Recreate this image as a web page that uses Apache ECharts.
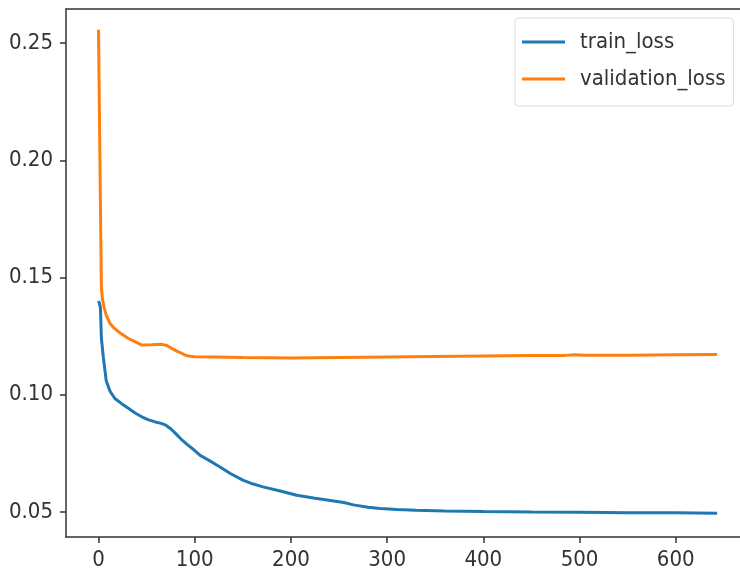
<!DOCTYPE html>
<html>
<head>
<meta charset="utf-8">
<script src="https://cdn.jsdelivr.net/npm/echarts@6/dist/echarts.min.js"></script>
<style>
  html, body { margin: 0; padding: 0; background: #fff; }
  #chart { width: 740px; height: 576px; }
</style>
</head>
<body>
<div id="chart"></div>
<script>
// epochs and loss values
const trainEpochs = [0, 1, 2, 3, 5, 8, 12, 17, 24, 31, 38, 45, 52, 59, 65, 70, 75, 80, 86, 93, 100, 106, 114, 125, 137, 150, 160, 171, 190, 206, 225, 241, 255, 265, 280, 293, 310, 330, 360, 400, 450, 500, 550, 600, 643]
const trainLoss = [0.140, 0.139, 0.137, 0.124, 0.116, 0.106, 0.1015, 0.0984, 0.0962, 0.0942, 0.0922, 0.0906, 0.0893, 0.0884, 0.0878, 0.0870, 0.0855, 0.0835, 0.0810, 0.0785, 0.0762, 0.0740, 0.0722, 0.0695, 0.0664, 0.0636, 0.0620, 0.0607, 0.0588, 0.0571, 0.0558, 0.0549, 0.0540, 0.0530, 0.0520, 0.0515, 0.0510, 0.0507, 0.0504, 0.0502, 0.0500, 0.0499, 0.0497, 0.0496, 0.0494]

const valEpochs = [0, 1, 2, 3, 4, 6, 8, 12, 16, 21, 31, 40, 45, 55, 66, 71, 76, 82, 86, 90, 95, 100, 121, 150, 200, 250, 300, 350, 400, 450, 485, 495, 505, 550, 600, 643]
const valLoss = [0.2557, 0.218, 0.181, 0.146, 0.141, 0.137, 0.134, 0.1304, 0.1285, 0.1268, 0.1240, 0.1222, 0.1212, 0.1213, 0.1215, 0.1210, 0.1198, 0.1185, 0.1178, 0.1169, 0.1164, 0.1162, 0.1161, 0.1159, 0.1157, 0.1159, 0.1161, 0.1163, 0.1165, 0.1167, 0.1168, 0.1171, 0.1169, 0.1169, 0.1171, 0.1172]

const xTicks = [0, 100, 200, 300, 400, 500, 600]
const yTicks = [0.05, 0.10, 0.15, 0.20, 0.25]

const font = 'DejaVu Sans Condensed, DejaVu Sans, sans-serif'
const axisColor = '#333'

const xMin = -33.8
const xMax = 666.8

function pairs(xs, ys) {
  return xs.map((x, i) => [x, ys[i]])
}

const chart = echarts.init(document.getElementById('chart'))
chart.setOption({
  animation: false,
  backgroundColor: '#fff',
  grid: { left: 66, right: 0, top: 9, bottom: 39 },
  legend: {
    orient: 'vertical',
    left: 515,
    top: 18,
    icon: 'rect',
    itemWidth: 43,
    itemHeight: 3,
    itemGap: 15,
    padding: [13, 8, 16, 7],
    backgroundColor: 'rgba(255,255,255,0.9)',
    borderColor: '#ddd',
    borderWidth: 1,
    borderRadius: 4,
    textStyle: { fontFamily: font, fontSize: 22, color: axisColor, padding: [0, 0, 0, 10] },
    data: ['train_loss', 'validation_loss']
  },
  xAxis: [
    {
      type: 'value',
      min: xMin,
      max: xMax,
      axisLine: { show: true, onZero: false, lineStyle: { color: axisColor, width: 1.5 } },
      axisTick: { show: true, length: 6, customValues: xTicks, lineStyle: { color: axisColor, width: 1.5 } },
      axisLabel: { customValues: xTicks, fontFamily: font, fontSize: 22, color: axisColor, margin: 12 },
      splitLine: { show: false }
    },
    {
      // top spine only
      type: 'value',
      position: 'top',
      min: xMin,
      max: xMax,
      axisLine: { show: true, onZero: false, lineStyle: { color: axisColor, width: 1.5 } },
      axisTick: { show: false },
      axisLabel: { show: false },
      splitLine: { show: false }
    }
  ],
  yAxis: {
    type: 'value',
    min: 0.0393,
    max: 0.2646,
    axisLine: { show: true, onZero: false, lineStyle: { color: axisColor, width: 1.5 } },
    axisTick: { show: true, length: 6, customValues: yTicks, lineStyle: { color: axisColor, width: 1.5 } },
    axisLabel: {
      customValues: yTicks,
      fontFamily: font,
      fontSize: 22,
      color: axisColor,
      margin: 13,
      formatter: v => v.toFixed(2)
    },
    splitLine: { show: false }
  },
  series: [
    {
      name: 'train_loss',
      type: 'line',
      symbol: 'none',
      color: '#1f77b4',
      lineStyle: { width: 3 },
      data: pairs(trainEpochs, trainLoss)
    },
    {
      name: 'validation_loss',
      type: 'line',
      symbol: 'none',
      color: '#ff7f0e',
      lineStyle: { width: 3 },
      data: pairs(valEpochs, valLoss)
    }
  ]
})
</script>
</body>
</html>
